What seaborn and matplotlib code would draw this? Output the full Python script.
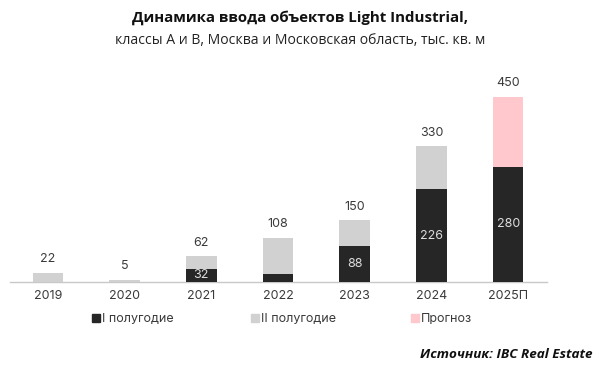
import matplotlib
matplotlib.use("Agg")
import matplotlib.pyplot as plt
import seaborn as sns
from matplotlib.lines import Line2D

# data
years = ["2019", "2020", "2021", "2022", "2023", "2024", "2025П"]
first_half = [0, 0, 32, 20, 88, 226, 280]
second_half = [22, 5, 30, 88, 62, 104, 0]
forecast = [0, 0, 0, 0, 0, 0, 170]
totals = [22, 5, 62, 108, 150, 330, 450]
inner_labels = [None, None, 32, None, 88, 226, 280]

DARK = "#262626"
GRAY = "#d0d1d0"
PINK = "#fec8cc"
TXT = "#3a3a3a"

sns.set_theme(style="white")
plt.rcParams["font.family"] = ["Inter", "DejaVu Sans"]

fig = plt.figure(figsize=(6, 3.68), dpi=100)
ax = fig.add_axes([9.5 / 600, 86 / 368, 537 / 600, 202 / 368])

upper = [s + f for s, f in zip(second_half, forecast)]
top_kind = ["Прогноз" if f > 0 else "II полугодие" for f in forecast]
stack_top = [a + b for a, b in zip(first_half, upper)]

sns.barplot(x=years, y=stack_top, hue=top_kind, dodge=False, width=0.4,
            palette={"II полугодие": GRAY, "Прогноз": PINK}, legend=False,
            saturation=1, linewidth=0, ax=ax, zorder=3)
sns.barplot(x=years, y=first_half, color=DARK, width=0.4, saturation=1,
            linewidth=0, ax=ax, zorder=3)

for i, t in enumerate(totals):
    ax.annotate(str(t), (i, t), xytext=(0, 5.5), textcoords="offset points",
                ha="center", va="bottom", fontsize=9, color=TXT, zorder=4)
for i, v in enumerate(inner_labels):
    if v is not None:
        ax.text(i, first_half[i] / 2, str(v), ha="center", va="center",
                fontsize=9, color="#dddddd", zorder=4)

ax.set_xlim(-0.5, 6.5)
ax.set_ylim(0, 491)
ax.set_yticks([])
ax.set_ylabel("")
for s in ["top", "right", "left"]:
    ax.spines[s].set_visible(False)
ax.spines["bottom"].set_color("#c8c8c8")
ax.spines["bottom"].set_linewidth(1)
ax.spines["bottom"].set_zorder(2)
ax.tick_params(axis="x", length=0, pad=6, labelsize=9, labelcolor=TXT)

# legend
entries = [("I полугодие", DARK, 86), ("II полугодие", GRAY, 245), ("Прогноз", PINK, 405)]
for label, col, xpx in entries:
    h = Line2D([], [], marker="s", linestyle="", markersize=6, color=col)
    fig.legend([h], [label], loc="center left", bbox_to_anchor=(xpx / 600, 1 - 319 / 368),
               frameon=False, fontsize=9, handlelength=0.6, handletextpad=0.2,
               borderpad=0, labelcolor=TXT)

fig.text(0.5, 1 - 18 / 368, "Динамика ввода объектов Light Industrial,", ha="center",
         va="center", fontsize=10.8, fontweight="bold", color="#111111", family="Open Sans")
fig.text(0.5, 1 - 40 / 368, "классы А и В, Москва и Московская область, тыс. кв. м",
         ha="center", va="center", fontsize=10.1, color="#222222", family="Open Sans")
fig.text(592 / 600, 1 - 355 / 368, "Источник: IBC Real Estate", ha="right", va="center",
         fontsize=9.7, fontweight="bold", fontstyle="italic", color="#111111", family="Open Sans")

fig.savefig("out.png", dpi=100)
